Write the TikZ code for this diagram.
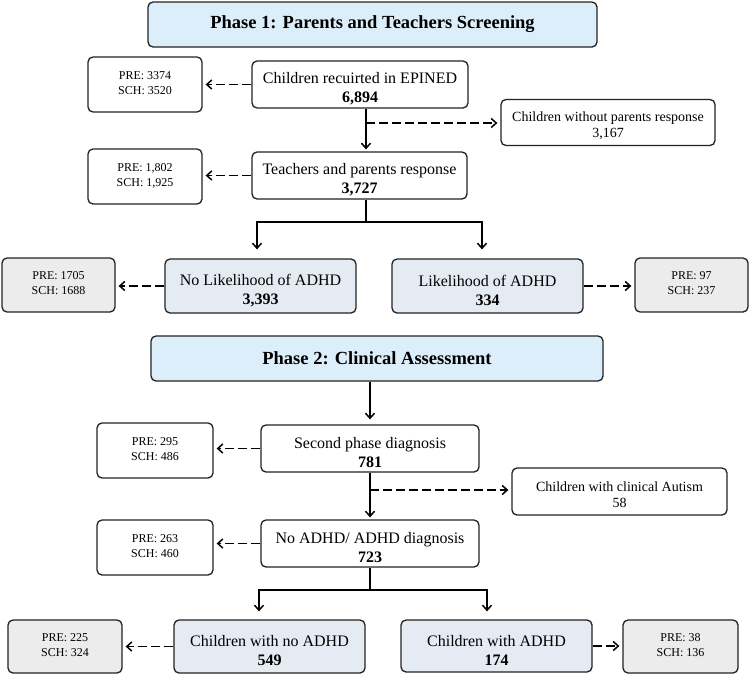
\documentclass[tikz,border=0pt]{standalone}
\usepackage{fontspec}
\setmainfont{Liberation Serif}
\usetikzlibrary{arrows.meta,calc}
\definecolor{phaseblue}{HTML}{DDEEFB}
\definecolor{resblue}{HTML}{E5EBF2}
\definecolor{boxgray}{HTML}{ECECEC}
\definecolor{edge}{HTML}{222222}
\newcommand\mytop{\rule{0pt}{19.5pt}}
\newcommand\sidetop{\rule{0pt}{17pt}}
\newcommand\smallbot{\rule[-3pt]{0pt}{0pt}}
\tikzset{
  base/.style={draw=edge, line width=1.3pt, rounded corners=5pt, align=center, inner sep=0pt},
  phasebox/.style={base, fill=phaseblue, font=\fontsize{18.5}{22}\selectfont\bfseries},
  mainbox/.style={base, fill=white, font=\fontsize{16}{19}\selectfont},
  sidebox/.style={base, fill=white, font=\fontsize{14}{16}\selectfont},
  smallbox/.style={base, fill=white, font=\fontsize{12}{15}\selectfont},
  graybox/.style={smallbox, fill=boxgray},
  resbox/.style={mainbox, fill=resblue},
  conn/.style={draw=black, line width=1.5pt},
  arr/.style={conn, -{Straight Barb[length=5pt,width=9pt,line width=1.5pt]}},
  darr/.style={arr, dash pattern=on 9pt off 4pt, shorten >=3pt},
}
\begin{document}
\begin{tikzpicture}[x=1pt,y=1pt]
\useasboundingbox (0,0) rectangle (749,-675);
% Phase 1
\node[phasebox, minimum width=449, minimum height=45] (ph1) at (372.5,-24.5) {Phase 1: Parents and Teachers Screening};
\node[smallbox, minimum width=114, minimum height=55] (pre1) at (145,-84.5) {PRE: 3374\\SCH: 3520\smallbot};
\node[mainbox, minimum width=216, minimum height=47] (rec) at (360,-84.5) {\mytop Children recuirted in EPINED\\\textbf{6,894}};
\node[sidebox, minimum width=214, minimum height=46] (wop) at (608,-122.5) {\sidetop Children without parents response\\3,167};
\node[smallbox, minimum width=114, minimum height=55] (pre2) at (145,-176.5) {PRE: 1,802\\SCH: 1,925\smallbot};
\node[mainbox, minimum width=215, minimum height=47] (tp) at (359.5,-175.5) {\mytop Teachers and parents response\\\textbf{3,727}};
\node[graybox, minimum width=113, minimum height=54] (gl1) at (58.5,-285) {PRE: 1705\\SCH: 1688\smallbot};
\node[resbox, minimum width=191, minimum height=54] (nol) at (260.5,-286) {\mytop No Likelihood of ADHD\\\textbf{3,393}};
\node[resbox, minimum width=191, minimum height=54] (lik) at (487.5,-286) {\mytop Likelihood of ADHD\\\textbf{334}};
\node[graybox, minimum width=113, minimum height=54] (gr1) at (691.5,-285) {PRE: 97\\SCH: 237\smallbot};
% Phase 2
\node[phasebox, minimum width=452, minimum height=45] (ph2) at (377,-358.5) {Phase 2: Clinical Assessment};
\node[smallbox, minimum width=116, minimum height=55] (pre3) at (155,-450.5) {PRE: 295\\SCH: 486\smallbot};
\node[mainbox, minimum width=218, minimum height=47] (spd) at (370,-448.5) {\mytop Second phase diagnosis\\\textbf{781}};
\node[sidebox, minimum width=215, minimum height=47] (aut) at (619.5,-491.5) {\sidetop Children with clinical Autism\\58};
\node[smallbox, minimum width=116, minimum height=55] (pre4) at (155,-547.5) {PRE: 263\\SCH: 460\smallbot};
\node[mainbox, minimum width=218, minimum height=47] (nad) at (370,-543.5) {\mytop No ADHD/ ADHD diagnosis\\\textbf{723}};
\node[graybox, minimum width=114, minimum height=53] (gl2) at (65,-646.5) {PRE: 225\\SCH: 324\smallbot};
\node[resbox, minimum width=191, minimum height=53] (cno) at (269.5,-646.5) {\mytop Children with no ADHD\\\textbf{549}};
\node[resbox, minimum width=191, minimum height=52] (cad) at (496.5,-646) {\mytop Children with ADHD\\\textbf{174}};
\node[graybox, minimum width=115, minimum height=53] (gr2) at (680.5,-646.5) {PRE: 38\\SCH: 136\smallbot};

% Phase 1 connectors
\coordinate (j1) at (366,-123);
\draw[darr] (rec.west) -- (rec.west -| pre1.east);
\draw[arr, shorten >=2pt] (j1 |- rec.south) -- (j1 |- tp.north);
\draw[darr] (j1) -- (j1 -| wop.west);
\draw[darr] (tp.west) -- (tp.west -| pre2.east);
\coordinate (s1) at (366,-222);
\coordinate (s1l) at (257,-222);
\coordinate (s1r) at (482,-222);
\draw[conn] (s1 |- tp.south) -- (s1);
\draw[arr, shorten >=9pt] (s1) -- (s1l) -- (s1l |- nol.north);
\draw[arr, shorten >=9pt] (s1) -- (s1r) -- (s1r |- lik.north);
\draw[darr] (nol.west) -- (nol.west -| gl1.east);
\draw[darr] (lik.east) -- (lik.east -| gr1.west);
% Phase 2 connectors
\coordinate (j0) at (370,-400);
\draw[arr, shorten >=5pt] (j0 |- ph2.south) -- (j0 |- spd.north);
\draw[darr] (spd.west) -- (spd.west -| pre3.east);
\coordinate (j2) at (370,-490);
\draw[arr, shorten >=2pt] (j2 |- spd.south) -- (j2 |- nad.north);
\draw[darr] (j2) -- (j2 -| aut.west);
\draw[darr] (nad.west) -- (nad.west -| pre4.east);
\coordinate (s2) at (370,-590);
\coordinate (s2l) at (259,-590);
\coordinate (s2r) at (487,-590);
\draw[conn] (s2 |- nad.south) -- (s2);
\draw[arr, shorten >=8pt] (s2) -- (s2l) -- (s2l |- cno.north);
\draw[arr, shorten >=8pt] (s2) -- (s2r) -- (s2r |- cad.north);
\draw[darr] (cno.west) -- (cno.west -| gl2.east);
\draw[darr] (cad.east) -- (cad.east -| gr2.west);
\end{tikzpicture}
\end{document}
